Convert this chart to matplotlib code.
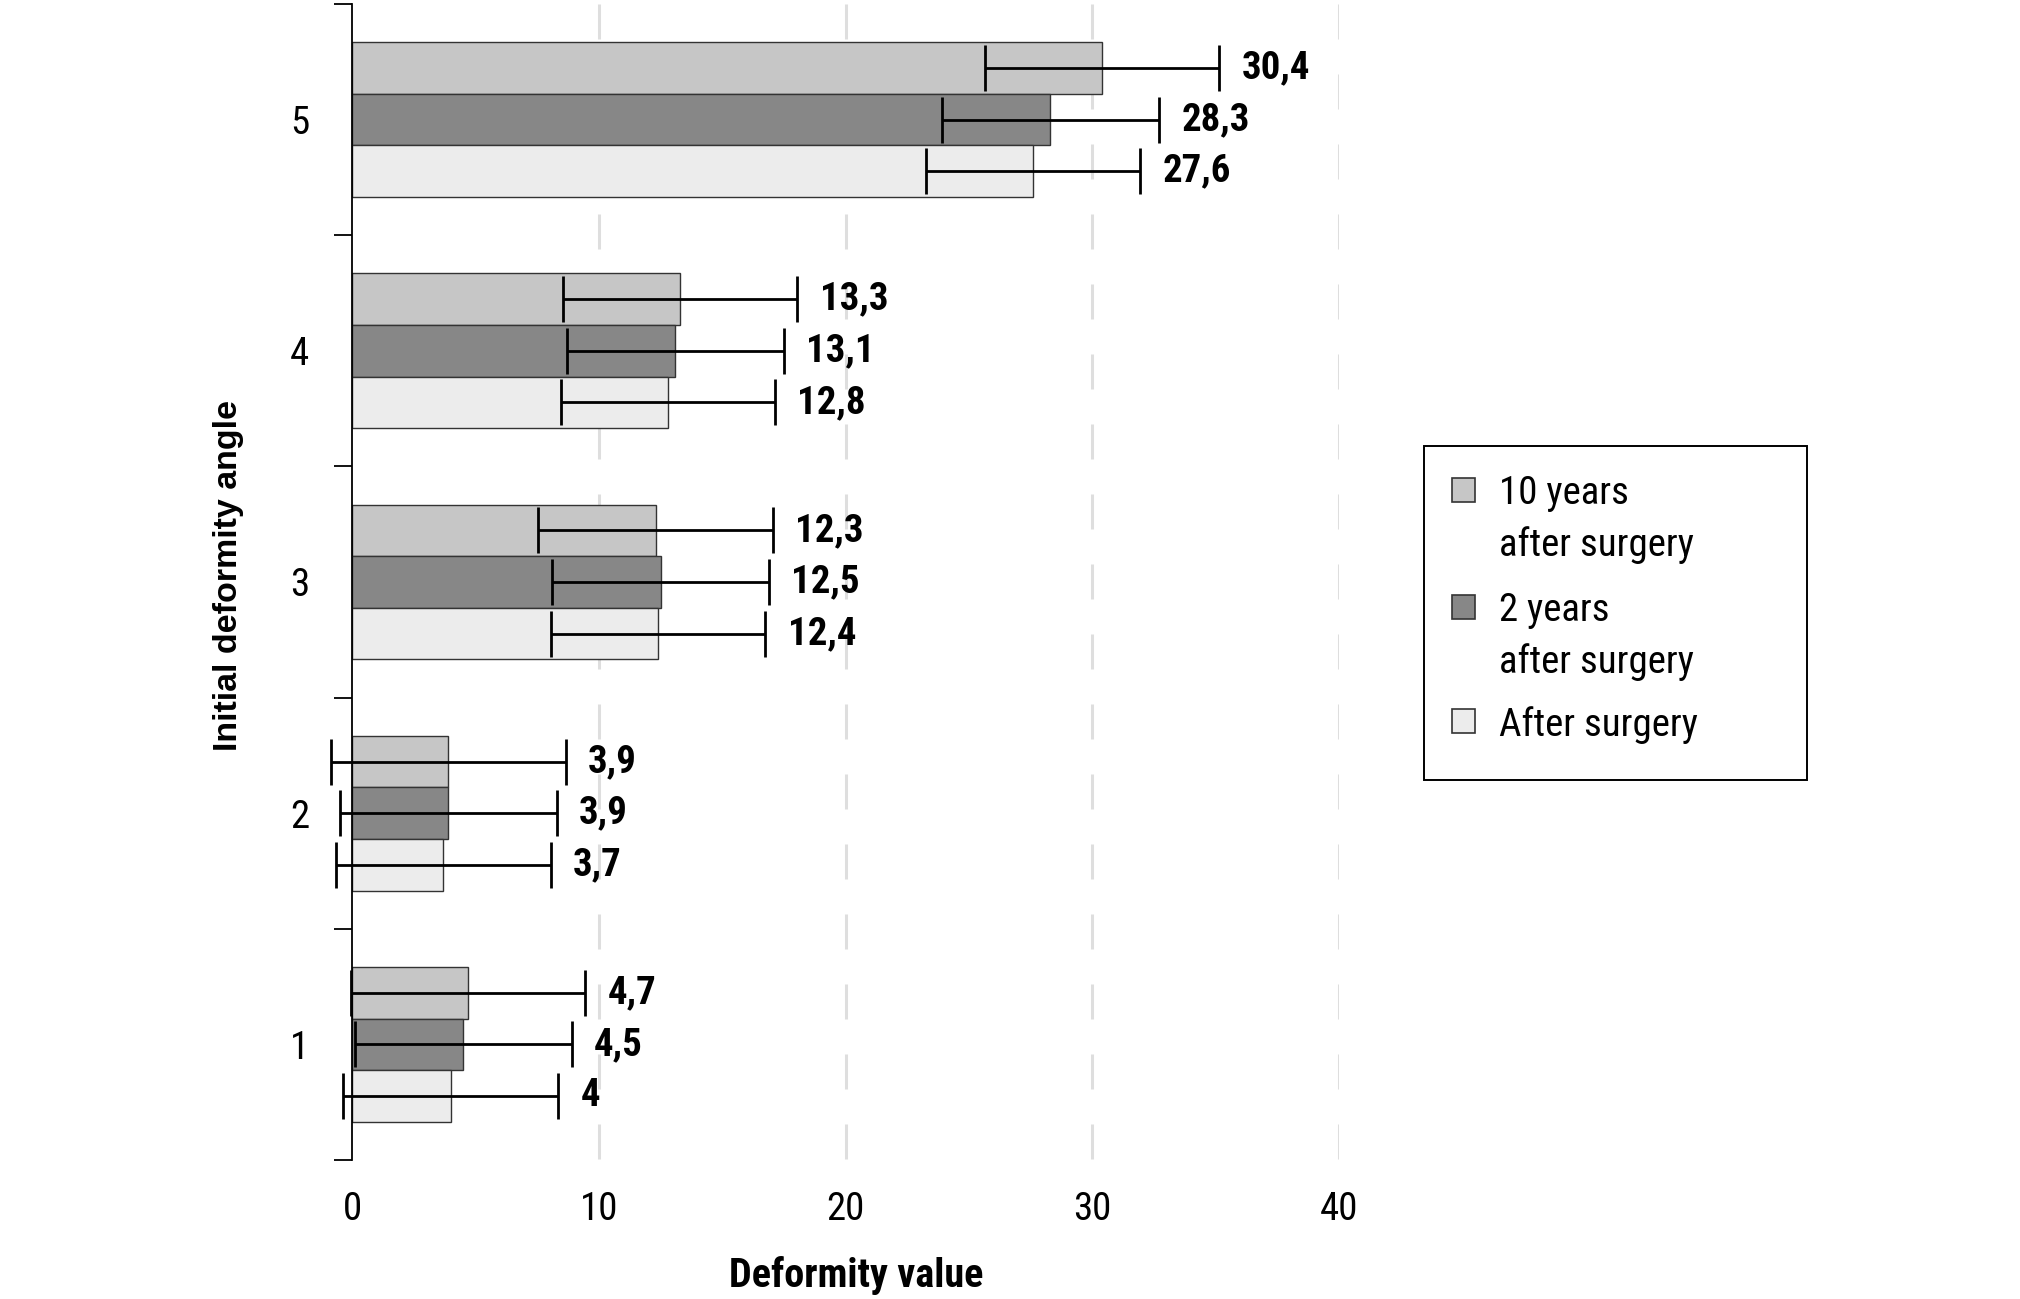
import matplotlib
matplotlib.use("Agg")
import matplotlib.pyplot as plt
from matplotlib.patches import Rectangle
import numpy as np

# ---- data ----
categories = ["1", "2", "3", "4", "5"]
series_names = ["10 years\nafter surgery", "2 years\nafter surgery", "After surgery"]
vals_10y = [4.7, 3.9, 12.3, 13.3, 30.4]
vals_2y = [4.5, 3.9, 12.5, 13.1, 28.3]
vals_after = [4.0, 3.7, 12.4, 12.8, 27.6]
err_10y = [4.75, 4.75, 4.75, 4.75, 4.75]
err_2y = [4.4, 4.4, 4.4, 4.4, 4.4]
err_after = [4.35, 4.35, 4.35, 4.35, 4.35]
labels_10y = ["4,7", "3,9", "12,3", "13,3", "30,4"]
labels_2y = ["4,5", "3,9", "12,5", "13,1", "28,3"]
labels_after = ["4", "3,7", "12,4", "12,8", "27,6"]
xticks = [0, 10, 20, 30, 40]

colors = ["#c6c6c6", "#878787", "#ececec"]
COND = ["Liberation Sans Narrow", "Roboto Condensed", "DejaVu Sans"]
plt.rcParams["lines.scale_dashes"] = False

fig = plt.figure(figsize=(20.2, 12.99), dpi=100)
ax = fig.add_axes([0.1743, 0.107, 0.4886, 0.89])

y = np.arange(1, len(categories) + 1)
bh = 0.223
offsets = [bh, 0.0, -bh]
series = [(vals_10y, err_10y, labels_10y), (vals_2y, err_2y, labels_2y),
          (vals_after, err_after, labels_after)]

ax.set_xlim(0, 40)
ax.set_ylim(0.5, 5.5)

# dashed gridlines (drawn top -> bottom)
for xt in xticks[1:]:
    ax.plot([xt, xt], [5.5, 0.5], color="#dedede", lw=2.2,
            linestyle=(0, (25.2, 25.2)), zorder=0, dash_capstyle="butt")

for (vals, errs, labs), off, col in zip(series, offsets, colors):
    ypos = y + off
    ax.barh(ypos, vals, height=bh, color=col, edgecolor="#333333",
            linewidth=1.0, zorder=2)
    eb = ax.errorbar(vals, ypos, xerr=errs, fmt="none", ecolor="black",
                     elinewidth=2.0, capsize=16.5, capthick=2.0, zorder=3)
    for art in eb.lines[1] + eb.lines[2]:
        art.set_clip_on(False)
    for v, e, yy, lab in zip(vals, errs, ypos, labs):
        ax.annotate(lab, (v + e, yy), xytext=(16, 0), textcoords="offset points",
                    ha="left", va="center", fontsize=28, fontweight="bold",
                    family=COND)

# axes styling
for s in ["top", "right", "bottom"]:
    ax.spines[s].set_visible(False)
ax.spines["left"].set_linewidth(1.3)
ax.set_yticks(y)
ax.set_yticklabels(categories, family=COND, fontsize=28)
ax.set_yticks(np.arange(0.5, 5.6, 1.0), minor=True)
ax.tick_params(axis="y", which="major", length=0, pad=31)
ax.tick_params(axis="y", which="minor", length=13, width=1.3, direction="out")
ax.set_xticks(xticks)
ax.set_xticklabels([str(t) for t in xticks], family=COND, fontsize=28)
ax.tick_params(axis="x", length=0, pad=22)

fig.text(0.113, 0.557, "Initial deformity angle", rotation=90, ha="center",
         va="center", fontsize=24.5, fontweight="bold",
         family=["Liberation Sans", "DejaVu Sans"])
fig.text(0.4238, 0.0092, "Deformity value", ha="center", va="baseline",
         fontsize=29, fontweight="bold", family=COND)

# legend (manual)
lx0, lx1, ly0, ly1 = 0.705, 0.8945, 0.3995, 0.657
fig.patches.append(Rectangle((lx0, ly0), lx1 - lx0, ly1 - ly0,
                             transform=fig.transFigure, facecolor="white",
                             edgecolor="black", linewidth=1.4))
sq_w, sq_h = 23 / 2020, 24 / 1299
sq_tops = [1 - 478 / 1299, 1 - 595 / 1299, 1 - 709 / 1299]
for name, col, top in zip(series_names, colors, sq_tops):
    fig.patches.append(Rectangle((0.7188, top - sq_h), sq_w, sq_h,
                                 transform=fig.transFigure, facecolor=col,
                                 edgecolor="#333333", linewidth=1.2))
    fig.text(0.742, top + 0.002, name, ha="left", va="top", fontsize=28,
             family=COND, linespacing=1.45)

fig.savefig("out.png", dpi=100)
